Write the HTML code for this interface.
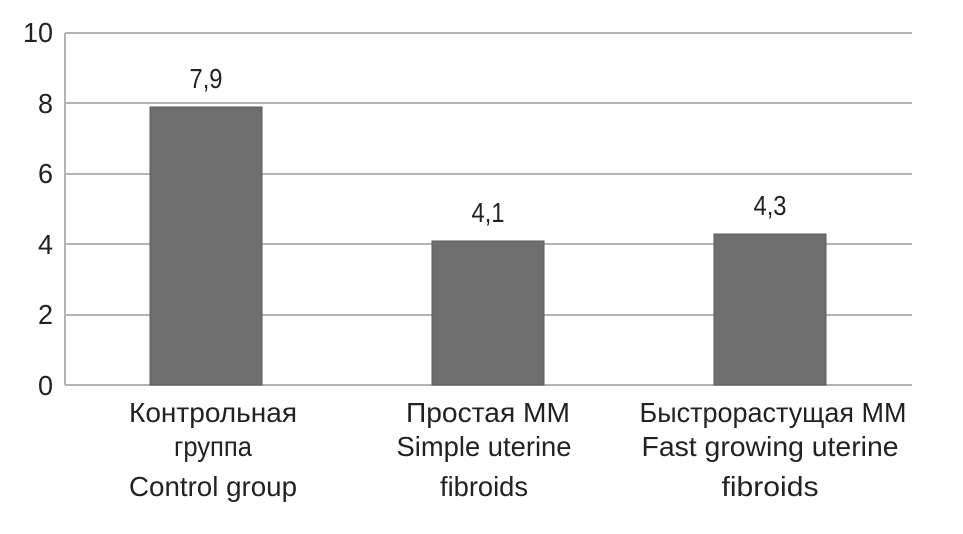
<!DOCTYPE html>
<html><head><meta charset="utf-8"><style>
html,body{margin:0;padding:0;background:#fff;width:963px;height:534px;overflow:hidden}
text{font-family:"Liberation Sans Narrow","Liberation Sans",sans-serif;fill:#222;font-size:28px}
</style></head><body>
<svg width="963" height="534" viewBox="0 0 963 534" xmlns="http://www.w3.org/2000/svg">
<g stroke="#b3b3b3" stroke-width="2">
<line x1="65" y1="33" x2="912" y2="33"/>
<line x1="65" y1="103" x2="912" y2="103"/>
<line x1="65" y1="174" x2="912" y2="174"/>
<line x1="65" y1="244" x2="912" y2="244"/>
<line x1="65" y1="315" x2="912" y2="315"/>
<line x1="65" y1="385" x2="912" y2="385"/>
<line x1="65" y1="33" x2="65" y2="385"/>
</g>
<g fill="#6e6e6e" stroke="#5a5a5a" stroke-width="1">
<rect x="150" y="107" width="112" height="278"/>
<rect x="432" y="241" width="112" height="144"/>
<rect x="714" y="234" width="112" height="151"/>
</g>
<g text-anchor="end" lengthAdjust="spacingAndGlyphs">
<text x="53" y="42" textLength="30" lengthAdjust="spacingAndGlyphs">10</text>
<text x="53" y="113" textLength="15" lengthAdjust="spacingAndGlyphs">8</text>
<text x="53" y="183" textLength="15" lengthAdjust="spacingAndGlyphs">6</text>
<text x="53" y="254" textLength="15" lengthAdjust="spacingAndGlyphs">4</text>
<text x="53" y="324" textLength="15" lengthAdjust="spacingAndGlyphs">2</text>
<text x="53" y="395" textLength="15" lengthAdjust="spacingAndGlyphs">0</text>
</g>
<g text-anchor="middle">
<text x="206" y="88" textLength="33" lengthAdjust="spacingAndGlyphs">7,9</text>
<text x="488" y="222" textLength="33" lengthAdjust="spacingAndGlyphs">4,1</text>
<text x="770" y="215" textLength="33" lengthAdjust="spacingAndGlyphs">4,3</text>
<text x="213" y="422" textLength="168" lengthAdjust="spacingAndGlyphs">Контрольная</text>
<text x="213" y="456" textLength="78" lengthAdjust="spacingAndGlyphs">группа</text>
<text x="213" y="496" textLength="168" lengthAdjust="spacingAndGlyphs">Control group</text>
<text x="488" y="422" textLength="164" lengthAdjust="spacingAndGlyphs">Простая ММ</text>
<text x="484" y="456" textLength="175" lengthAdjust="spacingAndGlyphs">Simple uterine</text>
<text x="484" y="496" textLength="88" lengthAdjust="spacingAndGlyphs">fibroids</text>
<text x="773" y="422" textLength="267" lengthAdjust="spacingAndGlyphs">Быстрорастущая ММ</text>
<text x="770" y="456" textLength="257" lengthAdjust="spacingAndGlyphs">Fast growing uterine</text>
<text x="770" y="496" textLength="97" lengthAdjust="spacingAndGlyphs">fibroids</text>
</g>
</svg>
</body></html>
